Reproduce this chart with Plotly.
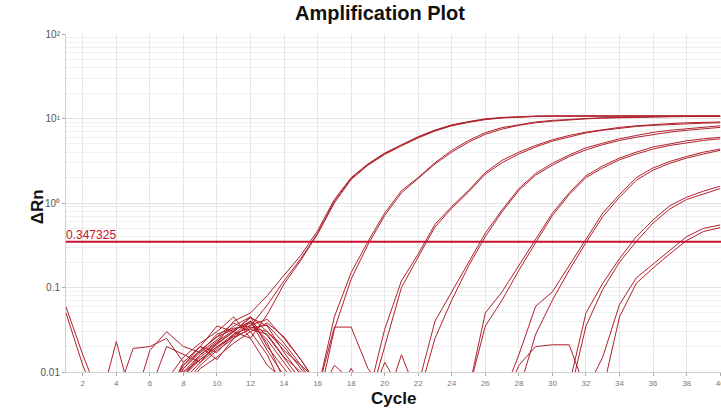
import plotly.graph_objects as go

cycles = list(range(1, 41))
threshold = 0.347325

g1a = [0.059, 0.016, 0.005, 0.004, 0.005, 0.006, 0.020, 0.016, 0.013, 0.022, 0.040,
       0.050, 0.080, 0.14, 0.24, 0.47, 1.1, 2.0, 2.9, 3.9, 4.9, 6.1, 7.3, 8.4, 9.2, 9.9, 10.3, 10.55,
       10.7, 10.7, 10.7, 10.7, 10.7, 10.7, 10.7, 10.7, 10.7, 10.7, 10.7, 10.7]
g1b = [0.050, 0.012, 0.004, 0.023, 0.004, 0.018, 0.030, 0.020, 0.017, 0.028, 0.033,
       0.035, 0.062, 0.12, 0.22, 0.44, 1.05, 1.95, 2.85, 3.85, 4.85, 6.0, 7.2, 8.3, 9.1, 9.8, 10.2, 10.5, 10.6,
       10.7, 10.7, 10.7, 10.7, 10.7, 10.7, 10.7, 10.7, 10.7, 10.7, 10.7]
g1c = [0.004, 0.003, 0.004, 0.005, 0.019, 0.020, 0.025, 0.013, 0.020, 0.035, 0.030,
       0.025, 0.048, 0.11, 0.21, 0.43, 1.0, 1.9, 2.8, 3.75, 4.75, 5.9, 7.1, 8.2, 9.0, 9.7, 10.15, 10.45, 10.6,
       10.7, 10.7, 10.7, 10.7, 10.7, 10.7, 10.7, 10.7, 10.7, 10.7, 10.7]
g2a = [0.004, 0.003, 0.005, 0.004, 0.003, 0.004, 0.008, 0.015, 0.022, 0.030, 0.045, 0.025, 0.012, 0.008, 0.006, 0.006,
       0.045, 0.15, 0.35, 0.76, 1.4, 2.0, 3.0, 4.2, 5.5, 6.8, 7.8, 8.5, 9.1, 9.5, 9.8, 10.0, 10.2, 10.35, 10.45, 10.5,
       10.55, 10.6, 10.6, 10.6]
g2b = [0.003, 0.004, 0.003, 0.003, 0.004, 0.003, 0.005, 0.012, 0.020, 0.014, 0.025, 0.040, 0.018, 0.009, 0.005, 0.004,
       0.032, 0.126, 0.32, 0.71, 1.32, 1.95, 2.9, 4.0, 5.25, 6.5, 7.5, 8.3, 8.9, 9.3, 9.65, 9.9, 10.1, 10.25, 10.35, 10.45,
       10.5, 10.55, 10.6, 10.6]
g3a = [0.003, 0.003, 0.004, 0.003, 0.004, 0.005, 0.004, 0.011, 0.018, 0.026, 0.038, 0.030, 0.016, 0.006, 0.004, 0.005,
       0.012, 0.008, 0.005,
       0.032, 0.12, 0.25, 0.56, 0.91, 1.41, 2.3, 3.2, 4.0, 4.8, 5.6, 6.3, 6.9, 7.4, 7.85, 8.2, 8.5, 8.7, 8.9, 9.0, 9.1]
g3b = [0.004, 0.003, 0.003, 0.004, 0.003, 0.004, 0.006, 0.009, 0.016, 0.022, 0.030, 0.045, 0.020, 0.011, 0.006, 0.004,
       0.005, 0.004, 0.004,
       0.020, 0.10, 0.23, 0.52, 0.87, 1.35, 2.2, 3.0, 3.8, 4.6, 5.4, 6.1, 6.75, 7.25, 7.7, 8.05, 8.3, 8.5, 8.7, 8.8, 8.9]
g4a = [0.003, 0.004, 0.003, 0.003, 0.004, 0.004, 0.005, 0.013, 0.020, 0.017, 0.028, 0.040, 0.022, 0.008, 0.005, 0.006,
       0.034, 0.034, 0.011, 0.006, 0.005, 0.007,
       0.040, 0.089, 0.20, 0.44, 0.83, 1.48, 2.24, 2.95, 3.7, 4.5, 5.1, 5.75, 6.3, 6.85, 7.25, 7.6, 7.9, 8.2]
g4b = [0.004, 0.003, 0.004, 0.003, 0.003, 0.005, 0.006, 0.010, 0.014, 0.020, 0.026, 0.032, 0.028, 0.015, 0.010, 0.006,
       0.005, 0.011, 0.005, 0.004, 0.016, 0.005,
       0.025, 0.071, 0.18, 0.40, 0.79, 1.41, 2.14, 2.8, 3.55, 4.25, 4.9, 5.5, 6.0, 6.5, 6.9, 7.25, 7.6, 7.85]
g5a = [0.003, 0.003, 0.003, 0.003, 0.003, 0.003, 0.005, 0.011, 0.017, 0.024, 0.035, 0.045, 0.030, 0.018, 0.012, 0.008,
       0.005, 0.006, 0.005, 0.004, 0.005, 0.004, 0.006, 0.005, 0.006,
       0.050, 0.089, 0.18, 0.37, 0.76, 1.32, 2.1, 2.75, 3.4, 4.0, 4.6, 5.0, 5.45, 5.75, 6.0]
g5b = [0.004, 0.003, 0.004, 0.003, 0.004, 0.003, 0.004, 0.008, 0.013, 0.019, 0.027, 0.036, 0.042, 0.025, 0.014, 0.007,
       0.004, 0.005, 0.004, 0.013, 0.006, 0.004, 0.005, 0.004, 0.006,
       0.035, 0.071, 0.16, 0.34, 0.71, 1.26, 2.0, 2.6, 3.25, 3.8, 4.35, 4.8, 5.15, 5.5, 5.75]
g6a = [0.003, 0.004, 0.003, 0.003, 0.004, 0.003, 0.006, 0.012, 0.018, 0.026, 0.032, 0.038, 0.024, 0.013, 0.007, 0.005,
       0.004, 0.005, 0.004, 0.004, 0.006, 0.004, 0.005, 0.004, 0.005, 0.004, 0.005,
       0.016, 0.060, 0.089, 0.18, 0.37, 0.76, 1.26, 2.0, 2.6, 3.1, 3.55, 4.0, 4.35]
g6b = [0.004, 0.003, 0.003, 0.004, 0.003, 0.004, 0.005, 0.009, 0.015, 0.021, 0.030, 0.044, 0.035, 0.017, 0.009, 0.005,
       0.004, 0.004, 0.005, 0.004, 0.004, 0.005, 0.004, 0.004, 0.005, 0.004, 0.004,
       0.006, 0.028, 0.071, 0.16, 0.34, 0.69, 1.17, 1.86, 2.45, 2.95, 3.4, 3.8, 4.2]
g7a = [0.003, 0.003, 0.004, 0.003, 0.003, 0.004, 0.005, 0.010, 0.016, 0.023, 0.031, 0.040, 0.027, 0.015, 0.008, 0.005,
       0.004, 0.004, 0.003, 0.004, 0.004, 0.003, 0.004, 0.004, 0.003, 0.004, 0.004, 0.003, 0.004, 0.004, 0.007,
       0.050, 0.112, 0.22, 0.40, 0.63, 0.93, 1.17, 1.38, 1.58]
g7b = [0.004, 0.003, 0.003, 0.004, 0.003, 0.003, 0.004, 0.007, 0.012, 0.018, 0.025, 0.033, 0.036, 0.022, 0.012, 0.006,
       0.004, 0.004, 0.004, 0.009, 0.004, 0.003, 0.004, 0.003, 0.004, 0.003, 0.004, 0.004, 0.003, 0.004, 0.005,
       0.035, 0.095, 0.20, 0.35, 0.58, 0.85, 1.10, 1.29, 1.48]
g8a = [0.003, 0.004, 0.003, 0.003, 0.004, 0.003, 0.004, 0.009, 0.014, 0.020, 0.028, 0.034, 0.030, 0.020, 0.011, 0.006,
       0.004, 0.003, 0.004, 0.003, 0.004, 0.004, 0.003, 0.004, 0.003, 0.004, 0.004, 0.012, 0.020, 0.021, 0.021, 0.006,
       0.015, 0.063, 0.13, 0.19, 0.275, 0.40, 0.50, 0.55]
g8b = [0.004, 0.003, 0.004, 0.003, 0.003, 0.004, 0.003, 0.006, 0.011, 0.015, 0.022, 0.030, 0.038, 0.026, 0.014, 0.007,
       0.004, 0.004, 0.003, 0.004, 0.003, 0.004, 0.003, 0.004, 0.004, 0.003, 0.004, 0.003, 0.004, 0.003, 0.004, 0.004,
       0.006, 0.045, 0.112, 0.17, 0.25, 0.36, 0.46, 0.51]

x_tick_vals = list(range(2, 41, 2))
y_tick_vals = [0.01, 0.1, 1, 10, 100]
y_tick_text = ["0.01", "0.1", "10⁰", "10¹", "10²"]

curves = [g1a, g1b, g1c, g2a, g2b, g3a, g3b, g4a, g4b, g5a, g5b, g6a, g6b, g7a, g7b, g8a, g8b]

fig = go.Figure()
for vals in curves:
    fig.add_trace(go.Scatter(x=cycles[:len(vals)], y=vals, mode="lines",
                             line=dict(color="#b0212d", width=1),
                             showlegend=False, hoverinfo="skip"))

fig.add_trace(go.Scatter(x=[cycles[0], cycles[-1] + 0.1], y=[threshold, threshold], mode="lines",
                         line=dict(color="#c8102e", width=2), showlegend=False, hoverinfo="skip"))

font_family = "Liberation Sans, Arial, sans-serif"
fig.update_layout(
    width=721, height=411,
    margin=dict(l=66, r=0, t=34, b=39),
    paper_bgcolor="white", plot_bgcolor="white",
    font=dict(family=font_family),
    title=dict(text="<b>Amplification Plot</b>", x=0.527, xanchor="center",
               y=0.968, yanchor="middle", font=dict(size=20, color="#111")),
    xaxis=dict(range=[1, 40.05], tickmode="array", tickvals=x_tick_vals,
               tickfont=dict(size=8, color="#777"), showgrid=True, gridcolor="#e6e6e6",
               ticks="outside", ticklen=3, tickcolor="#aaa", showline=True, linecolor="#d0d0d0",
               zeroline=False, automargin=False, ticklabeloverflow="allow"),
    yaxis=dict(type="log", range=[-2, 2], tickmode="array", tickvals=y_tick_vals, ticktext=y_tick_text,
               tickfont=dict(size=10, color="#555"), showgrid=True, gridcolor="#e3e3e3",
               ticks="outside", ticklen=3, tickcolor="#aaa", showline=True, linecolor="#d0d0d0",
               minor=dict(showgrid=True, gridcolor="#f0f0f0", dtick="D1"),
               zeroline=False, automargin=False),
    annotations=[
        dict(text="<b>Cycle</b>", xref="paper", yref="paper", x=0.5, y=-0.077,
             xanchor="center", yanchor="middle", showarrow=False, font=dict(size=17, color="#111")),
        dict(text="<b>ΔRn</b>", xref="paper", yref="paper", x=-0.043, y=0.49, textangle=-90,
             xanchor="center", yanchor="middle", showarrow=False, font=dict(size=17, color="#111")),
        dict(text="0.347325", xref="x", yref="y", x=1, y=-0.4593, xanchor="left", yanchor="bottom",
             showarrow=False, font=dict(size=12, color="#c8102e"), xshift=-2, yshift=-2),
    ],
)

fig.write_html("out.html")
